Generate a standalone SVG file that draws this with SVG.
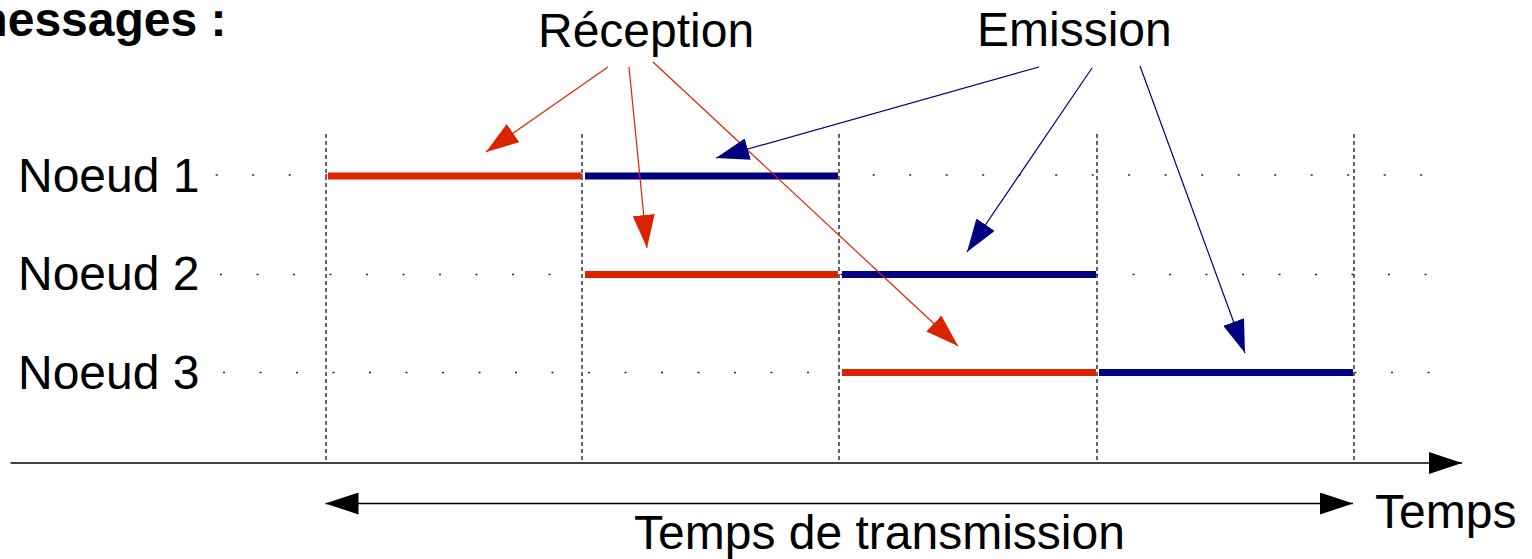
<svg xmlns="http://www.w3.org/2000/svg" width="1532" height="559" viewBox="0 0 1532 559">
  <style>
    text { font-family: "Liberation Sans", Arial, sans-serif; font-size: 48px; fill: #000; }
    .title { font-weight: bold; }
    .dots { stroke: #222; stroke-width: 1.4; stroke-dasharray: 2 34.5; fill: none; }
    .tick { stroke: #000; stroke-width: 1.2; stroke-dasharray: 4 3; fill: none; }
    .rx { stroke: #dc2300; stroke-width: 7; fill: none; }
    .tx { stroke: #000080; stroke-width: 7; fill: none; }
    .red { stroke: #dc2300; stroke-width: 1.2; fill: none; marker-end: url(#headRed); }
    .blue { stroke: #000080; stroke-width: 1.2; fill: none; marker-end: url(#headBlue); }
    .axis { stroke: #000; stroke-width: 1.5; fill: none; }
  </style>
  <defs>
    <marker id="headRed" viewBox="0 0 33 22" refX="33" refY="11" markerWidth="33" markerHeight="22" markerUnits="userSpaceOnUse" orient="auto">
      <path d="M0,0 L33,11 L0,22 Z" fill="#dc2300"/>
    </marker>
    <marker id="headBlue" viewBox="0 0 33 22" refX="33" refY="11" markerWidth="33" markerHeight="22" markerUnits="userSpaceOnUse" orient="auto">
      <path d="M0,0 L33,11 L0,22 Z" fill="#000080"/>
    </marker>
    <marker id="headBlack" viewBox="0 0 33 22" refX="33" refY="11" markerWidth="33" markerHeight="22" markerUnits="userSpaceOnUse" orient="auto-start-reverse">
      <path d="M0,0 L33,11 L0,22 Z" fill="#000"/>
    </marker>
  </defs>

  <!-- heading, running off the left edge -->
  <g id="heading">
    <text class="title" x="-35" y="36">messages :</text>
  </g>

  <!-- time slot boundaries -->
  <g id="slots">
    <line class="tick" x1="326" y1="134" x2="326" y2="462"/>
    <line class="tick" x1="582" y1="134" x2="582" y2="462"/>
    <line class="tick" x1="839" y1="134" x2="839" y2="462"/>
    <line class="tick" x1="1097" y1="134" x2="1097" y2="462"/>
    <line class="tick" x1="1354" y1="134" x2="1354" y2="462"/>
  </g>

  <!-- node rows -->
  <g id="noeud1">
    <text x="18" y="192">Noeud 1</text>
    <line class="dots" x1="215.7" y1="175" x2="1423" y2="175"/>
    <line class="rx" x1="328" y1="176" x2="581" y2="176"/>
    <line class="tx" x1="585" y1="176" x2="838" y2="176"/>
  </g>
  <g id="noeud2">
    <text x="18" y="290">Noeud 2</text>
    <line class="dots" x1="220" y1="274.5" x2="1429" y2="274.5"/>
    <line class="rx" x1="585" y1="274.5" x2="838" y2="274.5"/>
    <line class="tx" x1="842" y1="274.5" x2="1096" y2="274.5"/>
  </g>
  <g id="noeud3">
    <text x="18" y="389">Noeud 3</text>
    <line class="dots" x1="223" y1="372.5" x2="1431" y2="372.5"/>
    <line class="rx" x1="842" y1="372.5" x2="1096" y2="372.5"/>
    <line class="tx" x1="1099" y1="372.5" x2="1353" y2="372.5"/>
  </g>

  <!-- callout labels -->
  <g id="reception">
    <text x="538" y="47">Réception</text>
  </g>
  <g id="emission">
    <text x="977" y="46">Emission</text>
  </g>

  <!-- time axis -->
  <g id="temps">
    <line class="axis" x1="10.5" y1="463" x2="1462" y2="463" marker-end="url(#headBlack)"/>
    <text x="1375" y="528">Temps</text>
  </g>

  <!-- transmission span -->
  <g id="transmission">
    <line stroke="#000" stroke-width="1.3" x1="325.5" y1="503.5" x2="1353" y2="503.5" marker-start="url(#headBlack)" marker-end="url(#headBlack)"/>
    <text x="634" y="549">Temps de transmission</text>
  </g>

  <!-- callout arrows -->
  <g id="connectors">
    <line class="red" x1="608" y1="67" x2="486" y2="152"/>
    <line class="red" x1="629" y1="67" x2="647" y2="248"/>
    <line class="red" x1="653" y1="62" x2="958" y2="346"/>
    <line class="blue" x1="1039" y1="67" x2="716" y2="158"/>
    <line class="blue" x1="1092" y1="68" x2="967" y2="252"/>
    <line class="blue" x1="1140" y1="66" x2="1245" y2="353"/>
  </g>
</svg>
